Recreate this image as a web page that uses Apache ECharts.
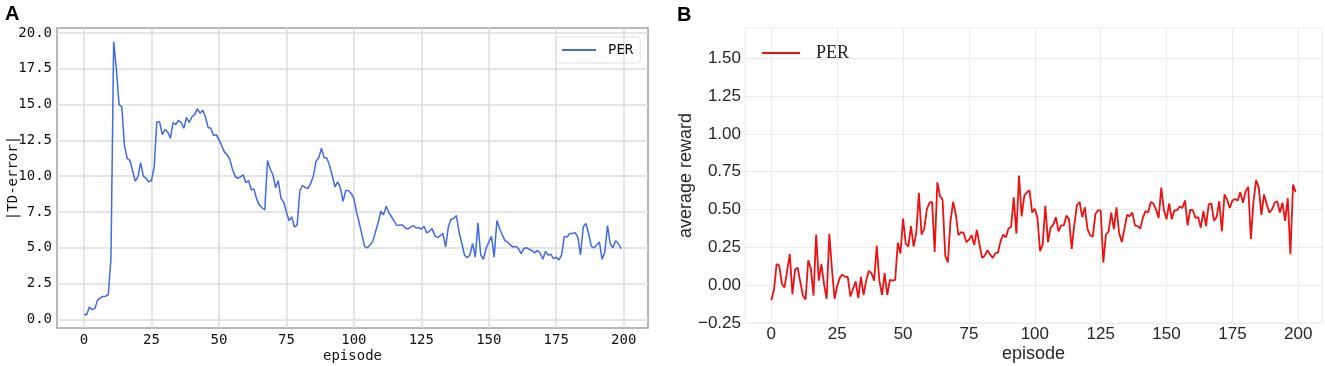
<!DOCTYPE html>
<html>
<head>
<meta charset="utf-8">
<script src="https://cdn.jsdelivr.net/npm/echarts@6/dist/echarts.min.js"></script>
<style>
    html, body { margin: 0; padding: 0; background: #fff; }
    #main { width: 1325px; height: 366px; }
</style>
</head>
<body>
<div id="main"></div>
<script>
// 图A：|TD-error|，每个episode一个值
const tdError = [
    0.35, 0.33, 0.86, 0.68, 0.75, 1.33, 1.5, 1.6, 1.62, 1.72,
    4.25, 19.4, 17.5, 15.0, 14.85, 12.15, 11.25, 11.1, 10.4, 9.65,
    9.95, 10.95, 10.0, 9.85, 9.6, 9.7, 10.65, 13.8, 13.8, 12.9,
    13.25, 13.1, 12.65, 13.75, 13.6, 13.9, 13.75, 13.35, 14.1, 13.75,
    14.15, 14.3, 14.7, 14.4, 14.6, 14.15, 13.4, 13.35, 12.85, 12.9,
    12.55, 12.15, 11.7, 11.5, 11.2, 10.5, 10.0, 9.85, 9.95, 10.1,
    9.55, 9.7, 9.05, 9.1, 8.4, 8.0, 7.8, 7.65, 11.1, 10.5,
    10.1, 9.2, 9.7, 8.45, 8.2, 7.5, 6.9, 7.15, 6.45, 6.6,
    9.0, 9.35, 9.2, 9.15, 9.5, 10.0, 11.05, 11.3, 11.95, 11.3,
    11.25, 10.75, 10.05, 9.25, 9.6, 9.2, 8.25, 9.0, 9.0, 8.8,
    8.45, 7.5, 6.75, 5.9, 5.1, 5.0, 5.2, 5.45, 6.1, 6.75,
    7.55, 7.3, 7.9, 7.45, 7.15, 6.85, 6.55, 6.6, 6.6, 6.4,
    6.3, 6.45, 6.55, 6.4, 6.4, 6.3, 6.5, 6.05, 6.15, 6.35,
    5.85, 5.7, 5.85, 6.0, 5.05, 6.45, 7.0, 7.05, 7.25, 6.1,
    5.3, 4.5, 4.3, 4.5, 5.3, 4.35, 6.75, 4.5, 4.2, 4.95,
    5.4, 5.8, 4.35, 6.9, 6.35, 5.9, 5.5, 5.4, 5.2, 5.05,
    5.1, 4.95, 4.6, 4.95, 5.0, 4.9, 4.8, 4.65, 4.8, 4.65,
    4.2, 4.75, 4.5, 4.55, 4.25, 4.35, 4.15, 4.5, 5.8, 5.75,
    6.0, 6.0, 6.05, 5.75, 4.5, 6.45, 6.7, 6.0, 5.1, 5.0,
    5.2, 5.4, 4.2, 4.7, 6.55, 5.3, 5.0, 5.5, 5.3, 4.95
];

// 图B：average reward
const avgReward = [
    -0.10, -0.03, 0.14, 0.13, 0.01, -0.015, 0.095, 0.205, -0.06, 0.105,
    0.115, 0.02, -0.07, -0.095, 0.165, 0.11, -0.07, 0.335, 0.03, 0.14,
    0.005, -0.09, 0.34, 0.105, -0.09, -0.005, 0.05, 0.07, 0.055, 0.055,
    -0.075, -0.025, 0.025, -0.085, 0.055, -0.065, 0.03, 0.095, 0.08, 0.03,
    0.26, 0.03, -0.065, 0.08, -0.065, 0.035, 0.03, 0.035, 0.28, 0.21,
    0.44, 0.275, 0.255, 0.39, 0.255, 0.345, 0.61, 0.335, 0.37, 0.5,
    0.545, 0.55, 0.22, 0.68, 0.59, 0.565, 0.195, 0.15, 0.425, 0.55,
    0.47, 0.33, 0.35, 0.345, 0.285, 0.3, 0.33, 0.265, 0.365, 0.27,
    0.18, 0.195, 0.23, 0.205, 0.18, 0.21, 0.215, 0.29, 0.335, 0.315,
    0.375, 0.385, 0.58, 0.34, 0.725, 0.455, 0.59, 0.615, 0.625, 0.48,
    0.505, 0.445, 0.225, 0.27, 0.525, 0.285, 0.38, 0.4, 0.45, 0.355,
    0.395, 0.395, 0.46, 0.435, 0.24, 0.4, 0.53, 0.55, 0.45, 0.515,
    0.37, 0.33, 0.32, 0.47, 0.495, 0.495, 0.15, 0.335, 0.355, 0.48,
    0.37, 0.515, 0.345, 0.285, 0.37, 0.465, 0.455, 0.48, 0.395, 0.39,
    0.375, 0.445, 0.49, 0.48, 0.55, 0.54, 0.5, 0.445, 0.645, 0.495,
    0.435, 0.54, 0.435, 0.495, 0.495, 0.52, 0.51, 0.56, 0.395, 0.5,
    0.495, 0.445, 0.45, 0.38, 0.49, 0.39, 0.535, 0.54, 0.425, 0.45,
    0.555, 0.355, 0.6, 0.565, 0.51, 0.56, 0.57, 0.56, 0.615, 0.545,
    0.62, 0.65, 0.305, 0.555, 0.695, 0.645, 0.465, 0.6, 0.535, 0.48,
    0.5, 0.545, 0.555, 0.48, 0.545, 0.425, 0.575, 0.205, 0.665, 0.615
];

// 刻度
const xTicks = [0, 25, 50, 75, 100, 125, 150, 175, 200];
const yTicksA = [0, 2.5, 5, 7.5, 10, 12.5, 15, 17.5, 20];
const yTicksB = [-0.25, 0, 0.25, 0.5, 0.75, 1.0, 1.25, 1.5];

const MONO = "DejaVu Sans Mono";
const SANS = "Liberation Sans";
const SERIF = "Liberation Serif";

// 组合 [episode, value]
function toPoints(values) {
    let points = [];
    for (let i = 0; i < values.length; i++) {
        points.push([i, values[i]]);
    }
    return points;
}

const chart = echarts.init(document.querySelector('#main'), null, { renderer: 'canvas' });

const option = {
    animation: false,
    title: [{
        text: 'A', left: 5, top: 4, padding: 0,
        textStyle: { fontFamily: SANS, fontWeight: 'bold', fontSize: 20, color: '#000' }
    }, {
        text: 'B', left: 677, top: 5, padding: 0,
        textStyle: { fontFamily: SANS, fontWeight: 'bold', fontSize: 20, color: '#000' }
    }],
    // 关闭v6的outerBounds自动收缩，保持绘图区位置
    grid: [{
        left: 57, top: 28, width: 591, height: 300,
        outerBoundsMode: 'none',
        show: true, borderColor: '#a0a0a0', borderWidth: 1.5
    }, {
        left: 745, top: 28, width: 577, height: 295,
        outerBoundsMode: 'none',
        show: true, borderColor: '#ebebeb', borderWidth: 1
    }],
    legend: [{
        data: ['PER-A'],
        formatter: 'PER',
        left: 556, top: 37,
        padding: [6, 7, 6, 6],
        borderColor: '#e0e0e0', borderWidth: 1, borderRadius: 3,
        icon: 'rect', itemWidth: 34, itemHeight: 2,
        textStyle: { fontFamily: MONO, fontSize: 14, color: '#111', padding: [0, 0, 0, 7] }
    }, {
        data: ['PER-B'],
        formatter: 'PER',
        left: 762, top: 44,
        padding: 0,
        icon: 'rect', itemWidth: 38, itemHeight: 2,
        textStyle: { fontFamily: SERIF, fontSize: 18, color: '#222', padding: [0, 0, 0, 11] }
    }],
    xAxis: [{
        gridIndex: 0, type: 'value', min: -10, max: 209,
        axisLine: { show: false },
        axisTick: { show: false, customValues: xTicks },
        axisLabel: { customValues: xTicks, fontFamily: MONO, fontSize: 14, color: '#111', margin: 5 },
        splitLine: { show: true, lineStyle: { color: '#dcdcdc', width: 1.5 } },
        name: 'episode', nameLocation: 'middle', nameGap: 21, nameMoveOverlap: false,
        nameTextStyle: { fontFamily: MONO, fontSize: 14, color: '#111' }
    }, {
        gridIndex: 1, type: 'value', min: -10, max: 209,
        axisLine: { show: false },
        axisTick: { show: false, customValues: xTicks },
        axisLabel: { customValues: xTicks, fontFamily: SANS, fontSize: 17, color: '#262626', margin: 3 },
        splitLine: { show: true, lineStyle: { color: '#ebebeb', width: 1 } },
        name: 'episode', nameLocation: 'middle', nameGap: 22, nameMoveOverlap: false,
        nameTextStyle: { fontFamily: SANS, fontSize: 18, color: '#262626' }
    }],
    yAxis: [{
        gridIndex: 0, type: 'value', min: -0.6, max: 20.35,
        axisLine: { show: false },
        axisTick: { show: false, customValues: yTicksA },
        axisLabel: {
            customValues: yTicksA, fontFamily: MONO, fontSize: 14, color: '#111', margin: 5,
            formatter: function (value) { return value.toFixed(1); }
        },
        splitLine: { show: true, lineStyle: { color: '#dcdcdc', width: 1.5 } },
        name: '|TD-error|', nameLocation: 'middle', nameGap: 37, nameMoveOverlap: false,
        nameTextStyle: { fontFamily: MONO, fontSize: 14, color: '#111' }
    }, {
        gridIndex: 1, type: 'value', min: -0.25, max: 1.7,
        axisLine: { show: false },
        axisTick: { show: false, customValues: yTicksB },
        axisLabel: {
            customValues: yTicksB, fontFamily: SANS, fontSize: 17, color: '#262626', margin: 4,
            formatter: function (value) { return value.toFixed(2).replace('-', '\u2212'); }
        },
        splitLine: { show: true, lineStyle: { color: '#ebebeb', width: 1 } },
        name: 'average reward', nameLocation: 'middle', nameGap: 50, nameMoveOverlap: false,
        nameTextStyle: { fontFamily: SANS, fontSize: 18, color: '#262626' }
    }],
    series: [{
        name: 'PER-A', type: 'line', xAxisIndex: 0, yAxisIndex: 0,
        symbol: 'none', color: '#4169e1',
        lineStyle: { color: '#4169e1', width: 1.5 },
        data: toPoints(tdError)
    }, {
        name: 'PER-B', type: 'line', xAxisIndex: 1, yAxisIndex: 1,
        symbol: 'none', color: '#ee1111',
        lineStyle: { color: '#ee1111', width: 1.8 },
        data: toPoints(avgReward)
    }]
};

chart.setOption(option);
</script>
</body>
</html>
